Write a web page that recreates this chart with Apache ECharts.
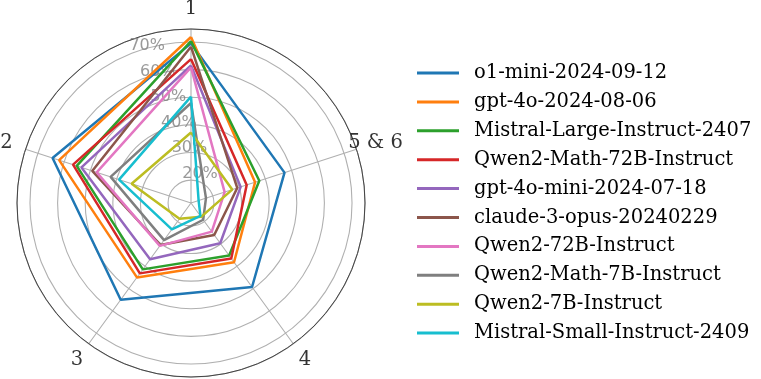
<!DOCTYPE html>
<html>
<head>
<meta charset="utf-8">
<script src="https://cdn.jsdelivr.net/npm/echarts@6/dist/echarts.min.js"></script>
<style>
  html, body { margin: 0; padding: 0; background: #fff; }
  #chart { width: 761px; height: 379px; }
</style>
</head>
<body>
<div id="chart"></div>
<script>
// axes of the radar, counter-clockwise from the top
const categories = ['1', '2', '3', '4', '5 & 6']
const radialTicks = [20, 30, 40, 50, 60, 70]

const modelNames = [
  'o1-mini-2024-09-12',
  'gpt-4o-2024-08-06',
  'Mistral-Large-Instruct-2407',
  'Qwen2-Math-72B-Instruct',
  'gpt-4o-mini-2024-07-18',
  'claude-3-opus-20240229',
  'Qwen2-72B-Instruct',
  'Qwen2-Math-7B-Instruct',
  'Qwen2-7B-Instruct',
  'Mistral-Small-Instruct-2409'
]

// scores in %, one value per axis (1, 2, 3, 4, 5 & 6)
const o1Mini = [69.5, 64.4, 55.0, 49.3, 47.3]
const gpt4o = [71.8, 61.9, 45.0, 38.2, 36.1]
const mistralLarge = [70.3, 55.2, 41.4, 35.2, 37.7]
const qwen2Math72b = [63.8, 56.6, 43.2, 36.5, 32.9]
const gpt4oMini = [61.5, 53.4, 36.9, 29.7, 30.6]
const claude3Opus = [68.3, 49.3, 30.5, 26.0, 29.3]
const qwen2_72b = [60.8, 47.6, 30.9, 24.5, 24.5]
const qwen2Math7b = [47.9, 42.3, 28.3, 19.2, 17.4]
const qwen2_7b = [37.2, 34.3, 18.8, 17.9, 27.4]
const mistralSmall = [50.2, 39.1, 23.5, 17.5, 14.6]

const allScores = [o1Mini, gpt4o, mistralLarge, qwen2Math72b, gpt4oMini,
  claude3Opus, qwen2_72b, qwen2Math7b, qwen2_7b, mistralSmall]

const colors = ['#1f77b4', '#ff7f0e', '#2ca02c', '#d62728', '#9467bd',
  '#8c564b', '#e377c2', '#7f7f7f', '#bcbd22', '#17becf']

const rMin = 11.7
const rMax = 74.7

// polygon: [radius, angleIndex], closed back to the first axis
function toPolygon (values) {
  const pts = values.map((v, i) => [v, i])
  pts.push([values[0], values.length])
  return pts
}

const lineSeries = allScores.map((values, i) => ({
  name: modelNames[i],
  type: 'line',
  coordinateSystem: 'polar',
  data: toPolygon(values),
  symbol: 'none',
  z: 3,
  color: colors[i],
  lineStyle: { color: colors[i], width: 2.5 },
  animation: false
}))

// radial tick labels sit at 22.5 deg from the top axis
const rLabelAngle = 22.5 / 72
const rLabelSeries = {
  type: 'scatter',
  coordinateSystem: 'polar',
  symbolSize: 0,
  silent: true,
  z: 1,
  data: radialTicks.map(t => [t, rLabelAngle]),
  label: {
    show: true,
    position: [0, 0],
    align: 'left',
    verticalAlign: 'bottom',
    formatter: p => p.value[0] + '%',
    color: '#808080',
    fontSize: 16,
    fontFamily: 'DejaVu Sans'
  },
  animation: false
}

// category names centred a bit outside the outer ring
const catPad = 20
const catLabelSeries = {
  type: 'scatter',
  coordinateSystem: 'polar',
  symbolSize: 0,
  silent: true,
  z: 1,
  data: categories.map((c, i) => {
    const a = (90 + 72 * i) * Math.PI / 180
    return {
      value: [rMax, i],
      label: { offset: [catPad * Math.cos(a), -catPad * Math.sin(a)] }
    }
  }),
  label: {
    show: true,
    position: [0, 0],
    align: 'center',
    verticalAlign: 'middle',
    formatter: p => categories[p.dataIndex],
    color: '#000',
    fontSize: 19.5,
    fontFamily: 'DejaVu Serif'
  },
  animation: false
}

const chart = echarts.init(document.getElementById('chart'))
chart.setOption({
  backgroundColor: '#fff',
  animation: false,
  polar: {
    center: [191, 203],
    radius: 174
  },
  angleAxis: {
    type: 'value',
    min: 0,
    max: categories.length,
    interval: 1,
    startAngle: 90,
    clockwise: false,
    axisLine: { show: true, lineStyle: { color: '#444', width: 1 } },
    axisTick: { show: false },
    splitLine: { show: true, lineStyle: { color: '#b0b0b0', width: 1.1 } },
    axisLabel: { show: false }
  },
  radiusAxis: {
    type: 'value',
    min: rMin,
    max: rMax,
    splitNumber: 6,
    axisLine: { show: false },
    axisTick: { show: false },
    axisLabel: { show: false },
    splitLine: { show: true, lineStyle: { color: '#b0b0b0', width: 1.1 } }
  },
  legend: {
    orient: 'vertical',
    left: 417,
    top: 62,
    padding: 0,
    itemWidth: 42,
    itemHeight: 14,
    itemGap: 6.9,
    icon: 'path://M0,5.5 L42,5.5 L42,8.5 L0,8.5 Z',
    data: modelNames,
    textStyle: {
      fontSize: 19.5,
      fontFamily: 'DejaVu Serif',
      color: '#000',
      lineHeight: 22,
      padding: [0, 0, 0, 10]
    }
  },
  series: lineSeries.concat([rLabelSeries, catLabelSeries])
})
</script>
</body>
</html>
